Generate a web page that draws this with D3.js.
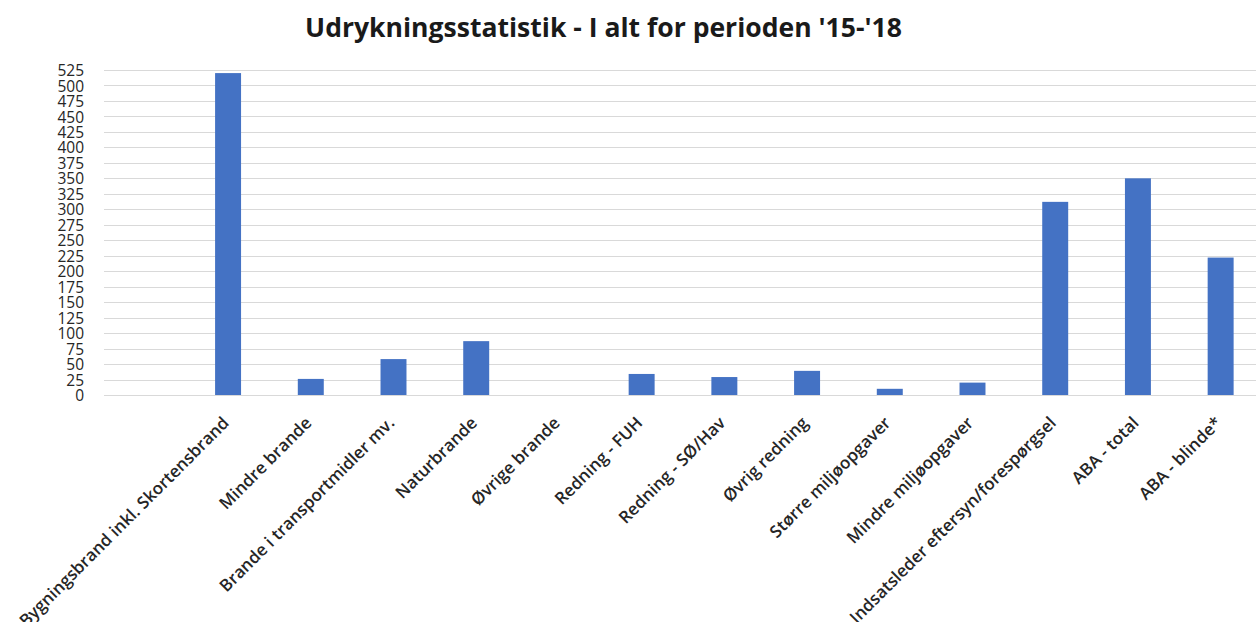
<!DOCTYPE html>
<html>
<head>
<meta charset="utf-8">
<script src="https://cdn.jsdelivr.net/npm/d3@7"></script>
<style>
  html, body { margin: 0; padding: 0; background: #fff; }
  svg { display: block; }
</style>
</head>
<body>
<svg id="chart" width="1256" height="622"></svg>
<script>
const title = "Udrykningsstatistik - I alt for perioden '15-'18";
const categories = [
  "Bygningsbrand inkl. Skortensbrand",
  "Mindre brande",
  "Brande i transportmidler mv.",
  "Naturbrande",
  "Øvrige brande",
  "Redning - FUH",
  "Redning - SØ/Hav",
  "Øvrig redning",
  "Større miljøopgaver",
  "Mindre miljøopgaver",
  "Indsatsleder eftersyn/forespørgsel",
  "ABA - total",
  "ABA - blinde*"
];
const values = [520, 26, 58, 87, 0, 34, 29, 39, 10, 20, 312, 350, 222];
const yTicks = d3.range(0, 526, 25);

const svg = d3.select("#chart");
const W = 1256, H = 622;
const plotLeft = 104, plotRight = 1262, plotTop = 70, plotBottom = 395;
// one empty leading slot before the first category (as in the original)
const nSlots = categories.length + 1;
const step = (plotRight - plotLeft) / nSlots;

const x = d3.scaleBand()
  .domain(categories)
  .range([plotLeft + step, plotRight])
  .paddingInner(0.686)
  .paddingOuter(0.343);

const y = d3.scaleLinear().domain([0, 525]).range([plotBottom, plotTop]);

// gridlines
svg.append("g")
  .selectAll("line")
  .data(yTicks)
  .join("line")
  .attr("x1", plotLeft)
  .attr("x2", W)
  .attr("y1", d => Math.round(y(d)) + 0.5)
  .attr("y2", d => Math.round(y(d)) + 0.5)
  .attr("stroke", "#d9d9d9")
  .attr("stroke-width", 1.2);

// y axis labels
const yAxis = d3.axisLeft(y).tickValues(yTicks).tickSize(0).tickPadding(0);
const yg = svg.append("g").attr("transform", `translate(84,0)`).call(yAxis);
yg.select(".domain").remove();
yg.selectAll("text")
  .attr("font-family", "'Open Sans', sans-serif")
  .attr("font-size", 15.5)
  .attr("fill", "#262626")
  .attr("dy", "0.36em");

// bars
svg.append("g")
  .selectAll("rect")
  .data(categories.map((c, i) => ({c, v: values[i]})))
  .join("rect")
  .attr("x", d => x(d.c))
  .attr("width", x.bandwidth())
  .attr("y", d => y(d.v))
  .attr("height", d => plotBottom - y(d.v))
  .attr("fill", "#4472C4");

// x labels
const xAxis = d3.axisBottom(x).tickSize(0).tickPadding(0);
const xg = svg.append("g").attr("transform", `translate(0,${plotBottom})`).call(xAxis);
xg.select(".domain").remove();
xg.selectAll("text")
  .attr("font-family", "'Open Sans', sans-serif")
  .attr("font-size", 17)
  .attr("font-weight", 600)
  .attr("fill", "#262626")
  .attr("text-anchor", "end")
  .attr("dy", null)
  .attr("y", null)
  .attr("transform", "translate(2,29) rotate(-45)");

// title
const t = svg.append("text")
  .attr("x", 603.5)
  .attr("y", 37)
  .attr("text-anchor", "middle")
  .attr("font-family", "'Open Sans', sans-serif")
  .attr("font-weight", 700)
  .attr("font-size", 22)
  .attr("fill", "#1a1a1a")
  .text(title);
const tw = t.node().getComputedTextLength();
t.attr("font-size", 22 * 597 / tw);
</script>
</body>
</html>
